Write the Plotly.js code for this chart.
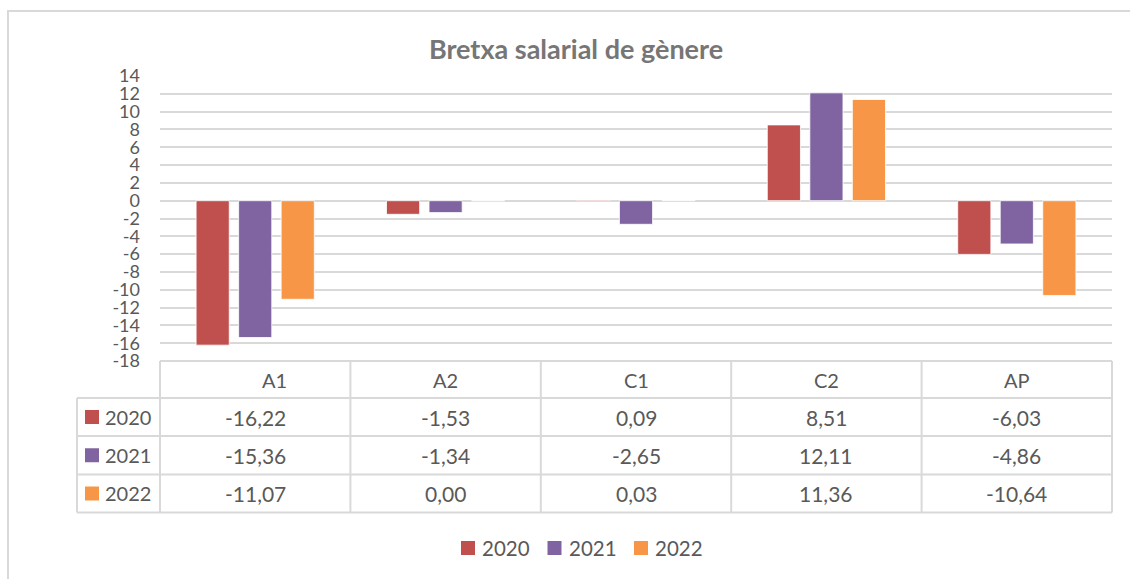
<!DOCTYPE html>
<html>
<head>
<meta charset="utf-8">
<script src="https://cdn.plot.ly/plotly-3.0.1.min.js"></script>
<style>html,body{margin:0;padding:0;background:#fff;}#chart{width:1130px;height:579px;}</style>
</head>
<body>
<div id="chart"></div>
<script>
// ---- data ----
const categories = ["A1", "A2", "C1", "C2", "AP"];
const seriesNames = ["2020", "2021", "2022"];
const values2020 = [-16.22, -1.53, 0.09, 8.51, -6.03];
const values2021 = [-15.36, -1.34, -2.65, 12.11, -4.86];
const values2022 = [-11.07, 0.00, 0.03, 11.36, -10.64];
const yTickVals = [14, 12, 10, 8, 6, 4, 2, 0, -2, -4, -6, -8, -10, -12, -14, -16, -18];
const yTickText = ["14", "12", "10", "8", "6", "4", "2", "0", "-2", "-4", "-6", "-8", "-10", "-12", "-14", "-16", "-18"];

const seriesValues = [values2020, values2021, values2022];
const colors = ["#C0504D", "#8064A2", "#F79646"];
const FONT = "Lato, 'Open Sans', sans-serif";
const TXT = "#595959";
const GRID = "#d9d9d9";

// layout geometry (pixels)
const W = 1130, Hh = 579;
const L = 160, R = 1112, T = 76, B = 361;
const pw = R - L, ph = B - T;
const px = x => (x - L) / pw;
const py = y => (B - y) / ph;

const traces = seriesValues.map((vals, i) => ({
  type: "bar",
  name: seriesNames[i],
  x: categories,
  y: vals,
  marker: { color: colors[i], line: { color: "rgba(255,255,255,0.8)", width: 1 } },
  hovertemplate: "%{x}: %{y:.2f}<extra>" + seriesNames[i] + "</extra>"
}));

const shapes = [];
const annotations = [];

// outer frame (only top & left visible)
shapes.push({ type: "rect", xref: "paper", yref: "paper", x0: px(8), x1: px(1140), y0: py(590), y1: py(11),
  line: { color: GRID, width: 2 }, layer: "below" });

// table grid
const rowY = [361, 398, 436, 474.5, 512.5];
const colW = pw / categories.length;
const colX = categories.map((c, i) => L + i * colW).concat([R]);
const leftX = 77;
const ln = (x0, y0, x1, y1) => shapes.push({ type: "line", xref: "paper", yref: "paper",
  x0: px(x0), x1: px(x1), y0: py(y0), y1: py(y1), line: { color: GRID, width: 2 } });
ln(L, rowY[0], R, rowY[0]);
for (let r = 1; r < rowY.length; r++) ln(leftX, rowY[r], R, rowY[r]);
ln(leftX, rowY[1], leftX, rowY[4]);
colX.forEach(x => ln(x, rowY[0], x, rowY[4]));

const fmt = v => v.toFixed(2).replace(".", ",");
// header
categories.forEach((c, i) => {
  annotations.push({ xref: "paper", yref: "paper", x: px(colX[i] + colW / 2), y: py((rowY[0] + rowY[1]) / 2),
    text: c, showarrow: false, xanchor: "center", yanchor: "middle", xshift: i === 0 ? 19 : 0,
    font: { family: FONT, size: 20, color: TXT } });
});
// rows
seriesValues.forEach((vals, s) => {
  const yc = (rowY[s + 1] + rowY[s + 2]) / 2;
  shapes.push({ type: "rect", xref: "paper", yref: "paper", x0: px(85), x1: px(99), y0: py(yc + 7), y1: py(yc - 7),
    fillcolor: colors[s], line: { width: 0 } });
  annotations.push({ xref: "paper", yref: "paper", x: px(103), y: py(yc), text: seriesNames[s], showarrow: false,
    xanchor: "left", yanchor: "middle", font: { family: FONT, size: 20, color: TXT } });
  vals.forEach((v, i) => {
    annotations.push({ xref: "paper", yref: "paper", x: px(colX[i] + colW / 2), y: py(yc), text: fmt(v),
      showarrow: false, xanchor: "center", yanchor: "middle", font: { family: FONT, size: 21, color: TXT } });
  });
});

// bottom legend
seriesNames.forEach((n, s) => {
  const x0 = 461 + s * 86.5, yc = 548;
  shapes.push({ type: "rect", xref: "paper", yref: "paper", x0: px(x0), x1: px(x0 + 14), y0: py(yc + 7), y1: py(yc - 7),
    fillcolor: colors[s], line: { width: 0 } });
  annotations.push({ xref: "paper", yref: "paper", x: px(x0 + 19), y: py(yc), text: n, showarrow: false,
    xanchor: "left", yanchor: "middle", font: { family: FONT, size: 20.5, color: TXT } });
});

const layout = {
  width: W, height: Hh,
  margin: { l: L, r: W - R, t: T, b: Hh - B, pad: 0 },
  paper_bgcolor: "#fff", plot_bgcolor: "#fff",
  showlegend: false,
  barmode: "group", bargap: 0.33, bargroupgap: 0.22,
  title: { text: "<b>Bretxa salarial de gènere</b>", x: 576 / W, xref: "container", xanchor: "center",
    y: 1 - 50 / Hh, yref: "container", yanchor: "middle",
    font: { family: FONT, size: 27, color: "#767676" } },
  xaxis: { type: "category", showticklabels: false, showgrid: false, zeroline: false, showline: false, ticks: "",
    range: [-0.5, categories.length - 0.5], fixedrange: true },
  yaxis: { range: [-18, 14], tickvals: yTickVals, ticktext: yTickText, showgrid: true, gridcolor: GRID, gridwidth: 1.5,
    zeroline: true, zerolinecolor: GRID, zerolinewidth: 1.5, showline: false, ticks: "", ticklabelstandoff: 19,
    tickfont: { family: FONT, size: 18, color: TXT }, fixedrange: true },
  shapes: shapes,
  annotations: annotations
};

Plotly.newPlot("chart", traces, layout, { displayModeBar: false, staticPlot: false });
</script>
</body>
</html>
